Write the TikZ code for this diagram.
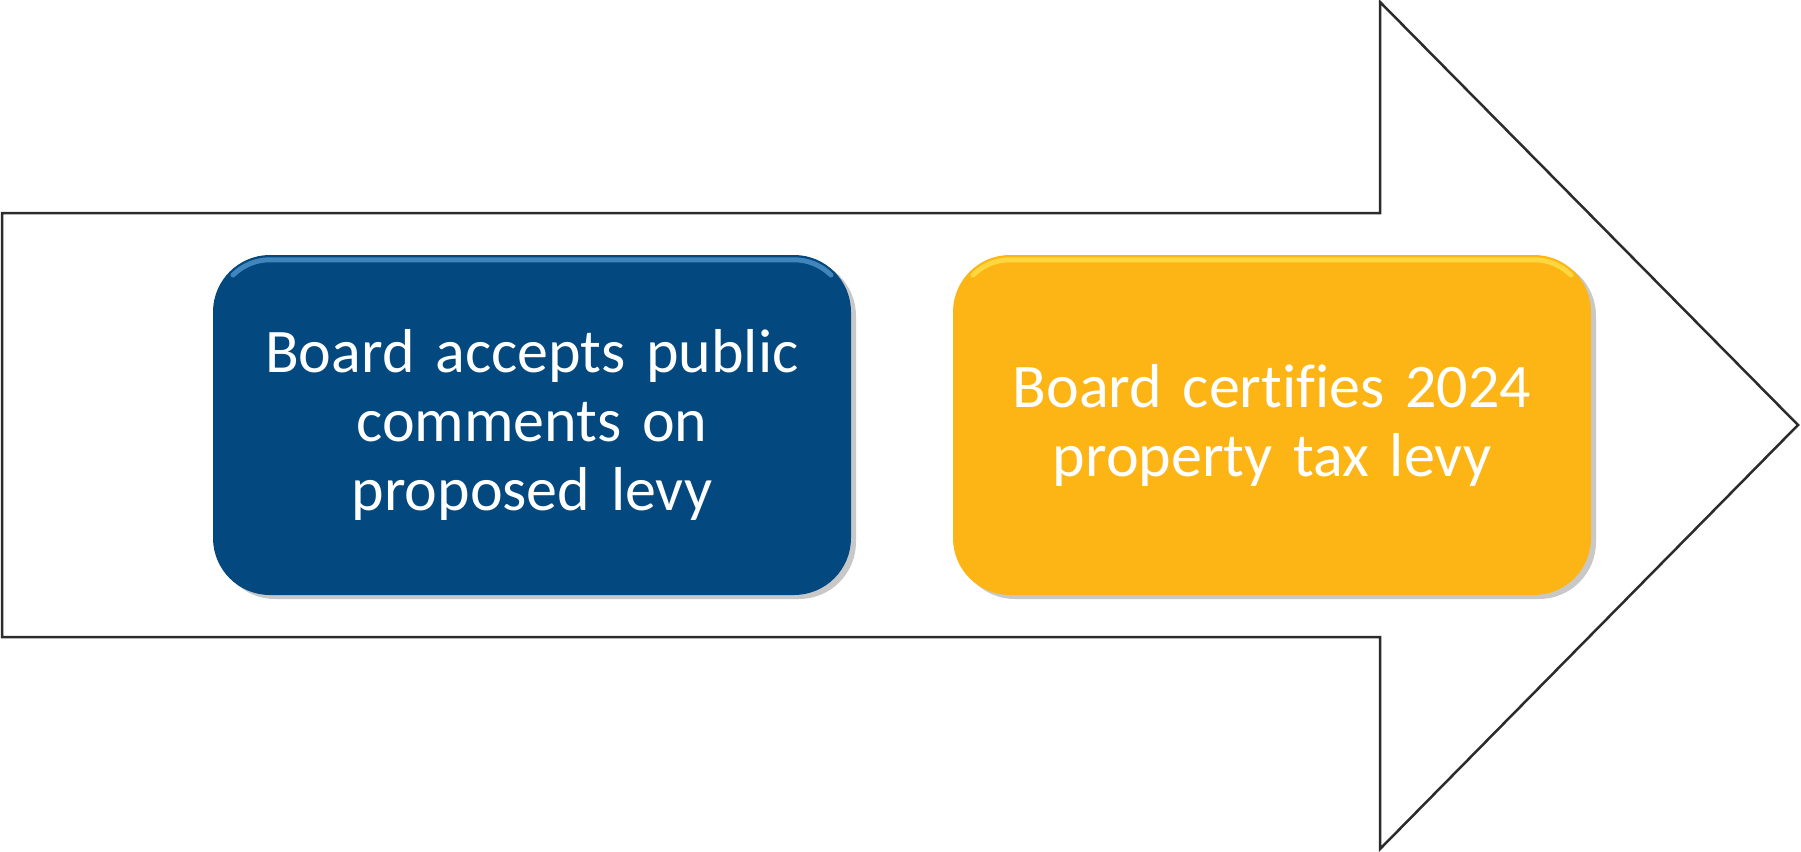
\documentclass[tikz,border=0pt]{standalone}
\usepackage{fontspec}
\setmainfont{Carlito}[Ligatures={NoCommon,NoContextual,NoRare}]
\usetikzlibrary{shadows}
\definecolor{boxblue}{HTML}{03497F}
\definecolor{boxyellow}{HTML}{FDB515}
\definecolor{arrowline}{HTML}{2B2B2B}
\definecolor{blueshine}{HTML}{6AAEE6}
\definecolor{yellowshine}{HTML}{FFEF5A}
\tikzset{
  stepbox/.style={rounded corners=57pt, minimum width=638pt, minimum height=340pt,
    text width=600pt, align=center, text=white, inner sep=0pt,
    font=\fontsize{62}{69}\selectfont,
    drop shadow={shadow xshift=5pt, shadow yshift=-4pt, opacity=0.3, fill=black!70}},
  bigarrow/.style={draw=arrowline, line width=2.5pt, fill=white, line join=miter},
  shine/.style={line width=5pt, opacity=0.6, line cap=round}
}
\begin{document}
\begin{tikzpicture}[x=1pt, y=-1pt]
\useasboundingbox (0,0) rectangle (1801,851);
\draw[bigarrow] (2,213) -- (1380,213) -- (1380,2) -- (1798,425) -- (1380,849) -- (1380,637) -- (2,637) -- cycle;
\node[stepbox, fill=boxblue] (comments) at (532,425) {Board accepts public\\comments on\\proposed levy};
\node[stepbox, fill=boxyellow] (certify) at (1272,425) {Board certifies 2024\\property tax levy};
\draw[shine, draw=blueshine] ([xshift=57pt,yshift=-57pt]comments.north west) ++(225:52) arc[start angle=225, end angle=270, radius=52] -- ([xshift=-57pt,yshift=-5pt]comments.north east) arc[start angle=270, end angle=315, radius=52];
\draw[shine, draw=yellowshine] ([xshift=57pt,yshift=-57pt]certify.north west) ++(225:52) arc[start angle=225, end angle=270, radius=52] -- ([xshift=-57pt,yshift=-5pt]certify.north east) arc[start angle=270, end angle=315, radius=52];
\end{tikzpicture}
\end{document}
